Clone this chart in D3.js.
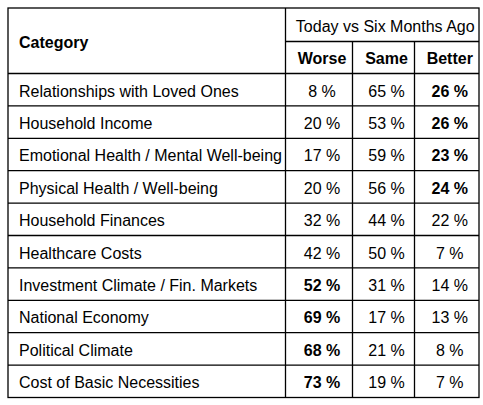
<!DOCTYPE html>
<html>
<head>
<meta charset="utf-8">
<script src="https://cdn.jsdelivr.net/npm/d3@7"></script>
<style>
  body { margin: 0; background: #fff; }
  text { font-family: 'Liberation Sans', Arial, sans-serif; fill: #000; font-size: 16px; }
</style>
</head>
<body>
<svg id="chart" width="483" height="405"></svg>
<script>
var categories = [
  'Relationships with Loved Ones',
  'Household Income',
  'Emotional Health / Mental Well-being',
  'Physical Health / Well-being',
  'Household Finances',
  'Healthcare Costs',
  'Investment Climate / Fin. Markets',
  'National Economy',
  'Political Climate',
  'Cost of Basic Necessities'
]
var worse = [8, 20, 17, 20, 32, 42, 52, 69, 68, 73]
var same = [65, 53, 59, 56, 44, 50, 31, 17, 21, 19]
var better = [26, 26, 23, 24, 22, 7, 14, 13, 8, 7]
// which column is emphasised in each row ('' = none)
var highlight = ['better', 'better', 'better', 'better', '', '', 'worse', 'worse', 'worse', 'worse']
var columns = ['Worse', 'Same', 'Better']
var groupTitle = 'Today vs Six Months Ago'
var firstHeader = 'Category'

var series = {worse: worse, same: same, better: better}

var svg = d3.select('#chart')
var box = {left: 8, right: 479, top: 8, headMid: 41.5, headBottom: 73.5, bottom: 397.5, catRight: 285.5}

var colEdges = [box.catRight, 352.5, 414.5, box.right]
var colCenter = function (i) { return (colEdges[i] + colEdges[i + 1]) / 2 + 3 }

var y = d3.scaleBand()
  .domain(d3.range(categories.length))
  .range([box.headBottom, box.bottom])

var g = svg.append('g')
var base = 6.8

// body rows
var rows = g.selectAll('g.row')
  .data(categories)
  .enter().append('g')
  .attr('class', 'row')
  .attr('transform', function (d, i) { return 'translate(0,' + y(i) + ')' })

rows.append('text')
  .attr('x', box.left + 11)
  .attr('y', y.bandwidth() / 2 + base)
  .text(function (d) { return d })

columns.forEach(function (c, ci) {
  var key = c.toLowerCase()
  rows.append('text')
    .attr('x', colCenter(ci))
    .attr('y', y.bandwidth() / 2 + base)
    .attr('text-anchor', 'middle')
    .style('font-weight', function (d, i) { return highlight[i] === key ? 'bold' : 'normal' })
    .text(function (d, i) { return series[key][i] + ' %' })
})

// header text
g.append('text')
  .attr('x', box.left + 11)
  .attr('y', (box.top + box.headBottom) / 2 + base)
  .style('font-weight', 'bold')
  .text(firstHeader)

g.append('text')
  .attr('x', (box.catRight + box.right) / 2 + 3)
  .attr('y', (box.top + box.headMid) / 2 + base)
  .attr('text-anchor', 'middle')
  .text(groupTitle)

g.selectAll('text.colhead')
  .data(columns)
  .enter().append('text')
  .attr('class', 'colhead')
  .attr('x', function (d, i) { return colCenter(i) })
  .attr('y', (box.headMid + box.headBottom) / 2 + base)
  .attr('text-anchor', 'middle')
  .style('font-weight', 'bold')
  .text(function (d) { return d })

// grid lines
var lines = g.append('g')
  .attr('stroke', '#000')
  .attr('stroke-width', 1.3)
  .attr('fill', 'none')

lines.append('rect')
  .attr('x', box.left).attr('y', box.top)
  .attr('width', box.right - box.left).attr('height', box.bottom - box.top)

// horizontal row separators
lines.selectAll('line.h')
  .data(d3.range(categories.length))
  .enter().append('line')
  .attr('x1', box.left).attr('x2', box.right)
  .attr('y1', function (i) { return y(i) })
  .attr('y2', function (i) { return y(i) })

lines.append('line')
  .attr('x1', box.catRight).attr('x2', box.right)
  .attr('y1', box.headMid).attr('y2', box.headMid)

// vertical separators
lines.append('line')
  .attr('x1', box.catRight).attr('x2', box.catRight)
  .attr('y1', box.top).attr('y2', box.bottom)

lines.selectAll('line.v')
  .data([1, 2])
  .enter().append('line')
  .attr('x1', function (i) { return colEdges[i] })
  .attr('x2', function (i) { return colEdges[i] })
  .attr('y1', box.headMid).attr('y2', box.bottom)
</script>
</body>
</html>
